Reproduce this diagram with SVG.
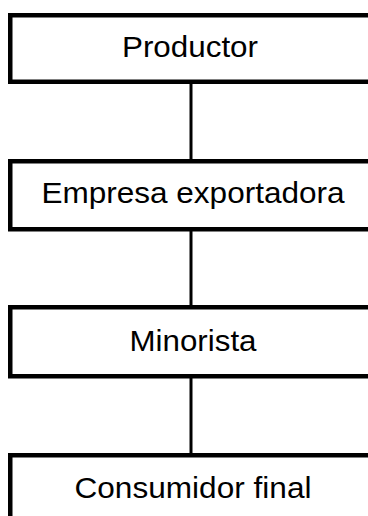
<svg xmlns="http://www.w3.org/2000/svg" width="368" height="516" viewBox="0 0 368 516">
<style>
.box{fill:#fff;stroke:#000;stroke-width:4.5}
.lbl{font-family:"Liberation Sans",Arial,sans-serif;font-size:29px;fill:#000;text-anchor:middle}
.conn{stroke:#000;stroke-width:3;fill:none}
</style>
<rect width="368" height="516" fill="#fff"/>
<g id="connectors">
<line class="conn" x1="191" y1="84" x2="191" y2="159"/>
<line class="conn" x1="191" y1="231" x2="191" y2="305"/>
<line class="conn" x1="191" y1="378" x2="191" y2="453"/>
</g>
<g id="productor">
<rect class="box" x="10.25" y="15.25" width="380" height="66.5"/>
<text class="lbl" x="190" y="57" textLength="136" lengthAdjust="spacingAndGlyphs">Productor</text>
</g>
<g id="empresa">
<rect class="box" x="10.25" y="161.25" width="380" height="68"/>
<text class="lbl" x="193" y="203" textLength="303" lengthAdjust="spacingAndGlyphs">Empresa exportadora</text>
</g>
<g id="minorista">
<rect class="box" x="10.25" y="307.25" width="380" height="69"/>
<text class="lbl" x="193" y="351" textLength="127" lengthAdjust="spacingAndGlyphs">Minorista</text>
</g>
<g id="consumidor">
<rect class="box" x="10.25" y="455.25" width="380" height="80"/>
<text class="lbl" x="193" y="498" textLength="237" lengthAdjust="spacingAndGlyphs">Consumidor final</text>
</g>
</svg>
